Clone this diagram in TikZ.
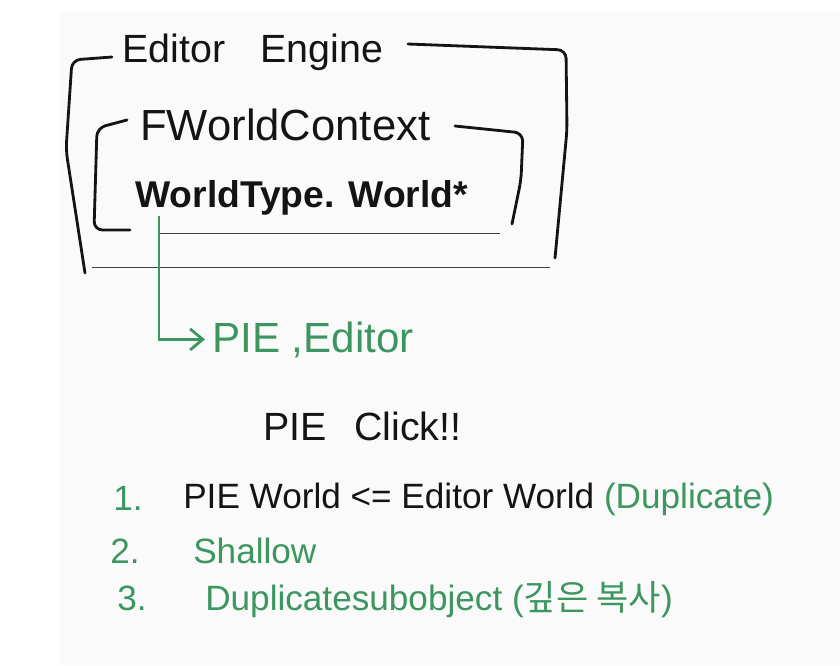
\documentclass[tikz,border=0pt]{standalone}
\usepackage{fontspec}
\setmainfont{Liberation Sans}
\newfontfamily\krfont{Noto Sans CJK KR}
\usepackage{xcolor}
\usetikzlibrary{arrows.meta}
\definecolor{NoteGreen}{HTML}{3C965F}
\definecolor{Paper}{HTML}{FAFAFA}
\definecolor{Pencil}{HTML}{141414}

\begin{document}
\begin{tikzpicture}[
  x=0.025cm,y=-0.025cm,
  frame/.style={draw=Pencil,line width=2pt,rounded corners=6pt,line cap=round,line join=round},
  rule/.style={draw=black!75,line width=0.6pt},
  link/.style={draw=NoteGreen,line width=2pt,-{Straight Barb[length=9pt,width=15pt]},shorten >=5pt},
  title/.style={anchor=base west,inner sep=0pt,text=Pencil,font=\fontsize{28}{28}\selectfont},
  field/.style={anchor=base west,inner sep=0pt,text=Pencil,font=\fontsize{26.5}{26.5}\selectfont\bfseries},
  note/.style={anchor=base west,inner sep=0pt,text=Pencil,font=\fontsize{28}{28}\selectfont},
  item/.style={anchor=base west,inner sep=0pt,text=Pencil,font=\fontsize{25}{25}\selectfont}
]
\useasboundingbox (0,0) rectangle (840,665);
\fill[white] (0,0) rectangle (840,665);
\fill[Paper] (60,12) rectangle (840,665);

\node[title] (engine) at (122,62) {Editor\hspace{0.9em}Engine};
\node[title,font=\fontsize{31}{31}\selectfont] (context) at (140,140) {FWorldContext};
\node[field] (worldtype) at (135,207) {WorldType. World*};

\draw[frame] (112,57) -- (72,60) -- (66,150) -- (85,273);
\draw[frame] (408,44) -- (566,50) -- (567,130) -- (555,258);
\draw[rule] (92,267) -- (550,267);
\draw[frame] (127,120) -- (97,128) -- (94,230) -- (130,230);
\draw[frame] (455,126) -- (523,133) -- (521,180) -- (512,224);
\draw[rule] (160,233) -- (500,233);

\coordinate (tail) at (159,216);
\node[note,text=NoteGreen,font=\fontsize{30}{30}\selectfont] (pie) at (212,352) {PIE ,Editor};
\draw[link] (tail) |- (pie.west);

\node[note] (click) at (263,440) {PIE\hspace{0.7em}Click!!};

\node[item,text=NoteGreen] (num1) at (113,510) {1.};
\node[item] (step1) at (183,508) {PIE World <= Editor World \textcolor{NoteGreen}{(Duplicate)}};
\node[item,text=NoteGreen] (num2) at (110,563) {2.};
\node[item,text=NoteGreen] (step2) at (193,563) {Shallow};
\node[item,text=NoteGreen] (num3) at (117,610) {3.};
\node[item,text=NoteGreen] (step3) at (205,610) {Duplicatesubobject ({\krfont 깊은 복사})};
\end{tikzpicture}
\end{document}
